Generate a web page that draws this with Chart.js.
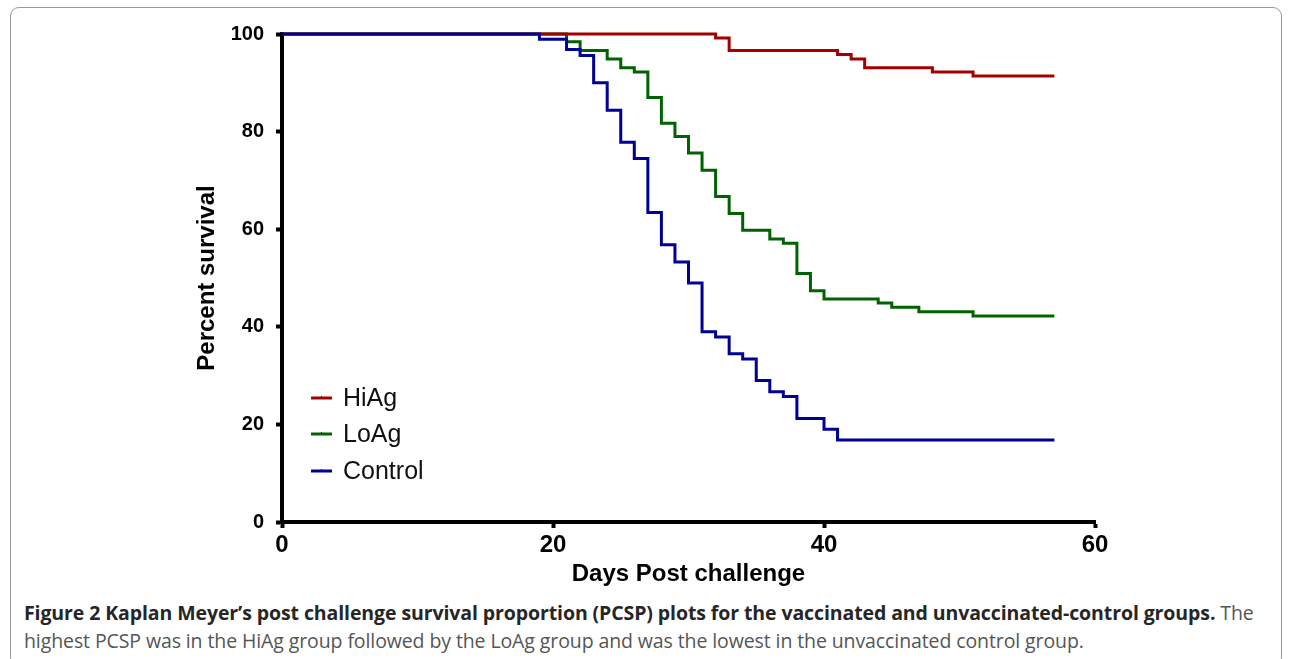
<!DOCTYPE html>
<html>
<head>
<meta charset="utf-8">
<script src="https://cdn.jsdelivr.net/npm/chart.js@4.4.1/dist/chart.umd.min.js"></script>
<style>
  html, body { margin: 0; padding: 0; background: #fff; }
  body { width: 1290px; height: 659px; position: relative; overflow: hidden; }
  #frame {
    position: absolute; left: 10px; top: 7px; width: 1272px; height: 660px;
    border: 1px solid #9a9a9a; border-radius: 9px; box-sizing: border-box;
  }
  #wrap { position: absolute; left: 0; top: 0; width: 1290px; height: 595px; }
  #caption {
    position: absolute; left: 24px; top: 599px;
    font-family: "Open Sans", sans-serif; font-size: 19.5px; line-height: 28px;
    color: #555; white-space: nowrap; letter-spacing: -0.1px;
  }
  #caption b { color: #262626; font-weight: 700; }
</style>
</head>
<body>
<div id="frame"></div>
<div id="wrap"><canvas id="kmChart"></canvas></div>
<div id="caption"><b>Figure 2 Kaplan Meyer’s post challenge survival proportion (PCSP) plots for the vaccinated and unvaccinated-control groups.</b> The<br>highest PCSP was in the HiAg group followed by the LoAg group and was the lowest in the unvaccinated control group.</div>
<script>
// survival steps (day of drop, percent surviving after it)
const hiagDays = [0, 32, 33, 41, 42, 43, 48, 51, 57];
const hiagSurvival = [100, 99.2, 96.6, 95.8, 94.9, 93.1, 92.2, 91.4, 91.4];

const loagDays = [0, 21, 22, 24, 25, 26, 27, 28, 29, 30, 31, 32, 33, 34, 36, 37, 38, 39, 40, 44, 45, 47, 51, 57];
const loagSurvival = [100, 98.4, 96.6, 94.9, 93.1, 92.2, 87.0, 81.7, 79.0, 75.6, 72.1, 66.7, 63.2, 59.8, 58.0, 57.1, 50.9, 47.4, 45.7, 44.9, 44.0, 43.1, 42.2, 42.2];

const controlDays = [0, 19, 21, 22, 23, 24, 25, 26, 27, 28, 29, 30, 31, 32, 33, 34, 35, 36, 37, 38, 40, 41, 57];
const controlSurvival = [100, 98.9, 96.8, 95.6, 90.0, 84.4, 77.8, 74.5, 63.4, 56.8, 53.3, 49.0, 39.0, 37.9, 34.5, 33.4, 29.0, 26.7, 25.7, 21.2, 19.0, 16.8, 16.8];

const groupNames = ["HiAg", "LoAg", "Control"];
const xTickValues = [0, 20, 40, 60];
const yTickValues = [0, 20, 40, 60, 80, 100];

const toPoints = (days, surv) => days.map((d, i) => ({ x: d, y: surv[i] }));

const colors = ["#a40000", "#006200", "#000092"];

// GraphPad-like legend sitting inside the plot, lower left
const insideLegend = {
    id: "insideLegend",
    afterDraw(chart) {
        const { ctx, chartArea } = chart;
        const x0 = chartArea.left + 29;
        const rows = [chartArea.bottom - 124, chartArea.bottom - 88, chartArea.bottom - 51];
        ctx.save();
        groupNames.forEach((name, i) => {
            const y = rows[i];
            ctx.strokeStyle = colors[i];
            ctx.lineWidth = 3;
            ctx.beginPath();
            ctx.moveTo(x0, y);
            ctx.lineTo(x0 + 21, y);
            ctx.stroke();
            ctx.fillStyle = "#222";
            ctx.fillRect(x0 + 10, y - 2, 1, 2);
            ctx.font = "25px 'Liberation Sans', Arial, sans-serif";
            ctx.textBaseline = "middle";
            ctx.fillStyle = "#111";
            ctx.fillText(name, x0 + 32, y + 1);
        });
        ctx.restore();
    }
};

const axisFont = "'Liberation Sans', Arial, sans-serif";

new Chart(document.getElementById("kmChart"), {
    type: "line",
    data: {
        datasets: [
            { label: groupNames[0], data: toPoints(hiagDays, hiagSurvival), borderColor: colors[0], order: 2, clip: 4 },
            { label: groupNames[1], data: toPoints(loagDays, loagSurvival), borderColor: colors[1], order: 3, clip: 4 },
            { label: groupNames[2], data: toPoints(controlDays, controlSurvival), borderColor: colors[2], order: 1, clip: 4 }
        ]
    },
    options: {
        responsive: true,
        maintainAspectRatio: false,
        animation: false,
        layout: { padding: { left: 182, top: 34, right: 195, bottom: 0 } },
        elements: {
            line: { stepped: true, borderWidth: 3, fill: false },
            point: { radius: 0 }
        },
        plugins: {
            legend: { display: false },
            tooltip: { enabled: false }
        },
        scales: {
            x: {
                type: "linear",
                min: 0,
                max: 60,
                afterFit: s => { s.height = 73; },
                afterBuildTicks: s => { s.ticks = xTickValues.map(v => ({ value: v })); },
                border: { display: true, color: "#000", width: 4 },
                grid: { drawOnChartArea: false, tickLength: 6, tickWidth: 4, tickColor: "#000" },
                ticks: { color: "#000", padding: 3, font: { family: axisFont, size: 24, weight: "bold" } },
                title: {
                    display: true,
                    text: "Days Post challenge",
                    color: "#000",
                    padding: { top: 0, bottom: 6 },
                    font: { family: axisFont, size: 24, weight: "bold" }
                }
            },
            y: {
                min: 0,
                max: 100,
                afterFit: s => { s.width = 100; },
                afterBuildTicks: s => { s.ticks = yTickValues.map(v => ({ value: v })); },
                border: { display: true, color: "#000", width: 4 },
                grid: { drawOnChartArea: false, tickLength: 6, tickWidth: 4, tickColor: "#000" },
                ticks: { color: "#000", padding: 12, font: { family: axisFont, size: 20, weight: "bold" } },
                title: {
                    display: true,
                    text: "Percent survival",
                    color: "#000",
                    padding: { top: 11, bottom: 0 },
                    font: { family: axisFont, size: 24, weight: "bold" }
                }
            }
        }
    },
    plugins: [insideLegend]
});
</script>
</body>
</html>
